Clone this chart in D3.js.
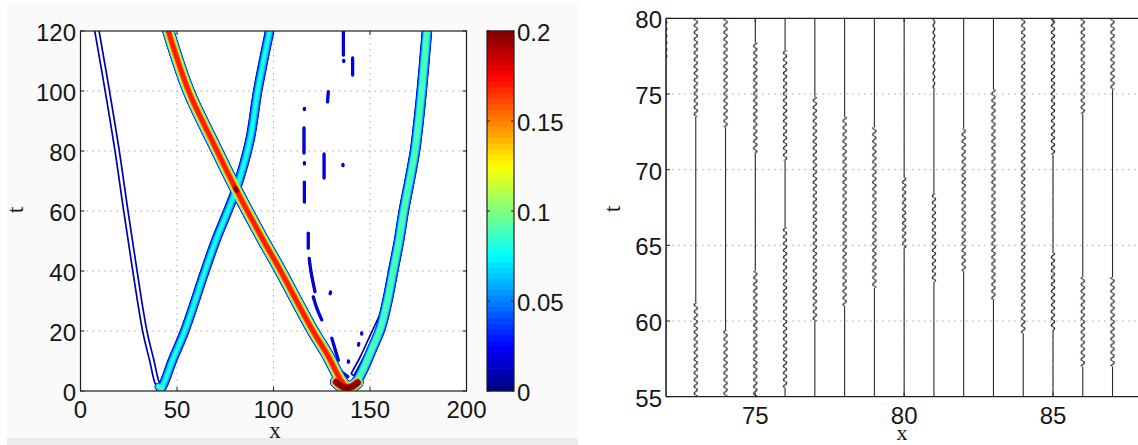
<!DOCTYPE html>
<html>
<head>
<meta charset="utf-8">
<script src="https://cdn.jsdelivr.net/npm/d3@7"></script>
<style>
  html, body { margin: 0; padding: 0; background: #ffffff; }
  svg { display: block; }
</style>
</head>
<body>
<svg id="fig" width="1138" height="445"></svg>
<script>
// ---------------- data: space-time amplitude map (left) ----------------
const xTicksMap = [0, 50, 100, 150, 200];
const tTicksMap = [0, 20, 40, 60, 80, 100, 120];
const colorbarTicks = [0, 0.05, 0.1, 0.15, 0.2];
const colorbarLabels = ["0", "0.05", "0.1", "0.15", "0.2"];
const contourLevels = [0.01, 0.02, 0.03, 0.04, 0.05, 0.06, 0.07, 0.08, 0.09, 0.1,
                       0.11, 0.12, 0.13, 0.14, 0.15, 0.16, 0.17, 0.18, 0.19, 0.2];

// wave-packet trajectories as [x, t]
const weakLeftPath    = [[41.2,0.9],[39.5,3.1],[37,10],[33.3,20],[28.2,40],[23.5,60],[19,80],[13.9,100],[8.5,120]];
const risingLeftPath  = [[41.5,0.5],[43.5,3],[47.5,10],[54,20],[64.5,40],[70,50],[80.6,67.2],[87.8,83.7],[91.8,100],[98,120]];
const fallingPath     = [[45.5,120],[56,100],[68.5,83],[80.6,67.2],[94.5,50.5],[102.5,41.4],[120,20.5],[128,12],[135,3.5],[138.5,0.8]];
const risingRightPath = [[140.5,0.8],[143,3],[147,8],[151,14],[155.5,21],[159,30],[162,40],[165,50],[167.5,60],[170.5,70],[173.3,80],[175.2,90],[176.8,100],[178.2,110],[179.5,120]];
const shoulderPath    = [[141.3,5.9],[146,11.5],[151,18.5],[156,25.3]];
const crossingCore    = [[80.1,67.7],[81.1,66.7]];
const valleyCoreRight = [[132.5,3],[136,1.4],[140,1.3],[143.5,2.8]];
const valleyCoreLeft  = [[40.3,1.5],[42.3,1]];

// peak amplitude of each trajectory (same order as the paths above)
const peakAmplitudes = [0.0145, 0.082, 0.178, 0.1, 0.0135, 0.215, 0.22, 0.1];

// isolated low-amplitude radiation fragments, [x, t]
const radiationSpecks = [
  [[136.2,112],[136.2,119.8]],
  [[136.4,109.8],[136.4,110.2]],
  [[141,105.3],[141,111]],
  [[128,96.4],[128.4,99.8]],
  [[116,93.8],[116,94.2]],
  [[115.8,79.3],[115.8,87.7]],
  [[116,75.7],[116,76.1]],
  [[126.2,71],[126.2,79]],
  [[136,75.1],[136,75.5]],
  [[116,63],[116,69.6]],
  [[118,47.6],[118,52.6]],
  [[118.5,44.2],[119.5,39.5],[121.5,33.1]],
  [[120.6,31.4],[122.5,27.5],[125,23.7]],
  [[129.3,32.4],[129.6,33]],
  [[130.2,17.6],[133.6,10.3]],
  [[132,9.2],[135,6.5],[138.5,4.8]],
  [[138.8,9.6],[138.8,10]],
  [[144,15.3],[144.2,15.8]],
  [[145.7,19],[145.7,19.4]]
];
const speckAmplitude = 0.022;

// ---------------- data: lattice displacement detail (right) ----------------
const xTicksLattice = [75, 80, 85];
const tTicksLattice = [55, 60, 65, 70, 75, 80];
const latticeSites = [72, 73, 74, 75, 76, 77, 78, 79, 80, 81, 82, 83, 84, 85, 86, 87, 88];
const oscillationPeriod = 0.45;
// [site, t start, t end, displacement amplitude]
const oscillationWindows = [
  [72, 77.2, 80, 0.028],
  [73, 73.5, 80, 0.055], [73, 55, 61.2, 0.055],
  [74, 72.8, 80, 0.055], [74, 55, 59.4, 0.055],
  [75, 71.1, 78.4, 0.055], [75, 55, 63.3, 0.055],
  [76, 70.6, 77.9, 0.055], [76, 55.6, 66.2, 0.055],
  [77, 60, 74.8, 0.055],
  [78, 61, 73.5, 0.055],
  [79, 62.2, 72.8, 0.055],
  [80, 64.8, 69.5, 0.055],
  [81, 62.6, 68.4, 0.055], [81, 75.3, 80, 0.028],
  [82, 63.3, 72.7, 0.055],
  [83, 61.4, 75.3, 0.055],
  [84, 59.2, 80, 0.055],
  [85, 71, 80, 0.055], [85, 59.4, 64.5, 0.055],
  [86, 73.7, 80, 0.055], [86, 57, 62.9, 0.055],
  [87, 75.3, 80, 0.055], [87, 57, 62.9, 0.055]
];

// ---------------- setup ----------------
const svg = d3.select("#fig");
const defs = svg.append("defs");
const sansFont = "'Liberation Sans', Arial, Helvetica, sans-serif";
const serifFont = "'Liberation Serif', 'Times New Roman', serif";
const axisColor = "#1e1e1e";
const gridColor = "#a8a8a8";
const tickFont = 24;

// MATLAB-style jet colormap
function jet(v) {
  const c = x => Math.max(0, Math.min(1, x));
  const r = c(1.5 - Math.abs(4 * v - 3));
  const g = c(1.5 - Math.abs(4 * v - 2));
  const b = c(1.5 - Math.abs(4 * v - 1));
  return d3.rgb(r * 255, g * 255, b * 255).formatHex();
}
const amplitudeColor = d3.scaleSequential(jet).domain([0, 0.2]);

// ---------------- left panel ----------------
svg.append("rect").attr("x", 7).attr("y", 3).attr("width", 571).attr("height", 435).attr("fill", "#f9faf9");
svg.append("rect").attr("x", 7).attr("y", 438).attr("width", 571).attr("height", 7).attr("fill", "#ececec");

const xMap = d3.scaleLinear().domain([0, 200]).range([80.5, 466.5]);
const tMap = d3.scaleLinear().domain([0, 120]).range([391, 31]);

defs.append("clipPath").attr("id", "mapClip")
  .append("rect")
  .attr("x", xMap(0)).attr("y", tMap(120))
  .attr("width", xMap(200) - xMap(0)).attr("height", tMap(0) - tMap(120));

svg.append("rect")
  .attr("x", xMap(0)).attr("y", tMap(120))
  .attr("width", xMap(200) - xMap(0)).attr("height", tMap(0) - tMap(120))
  .attr("fill", "#ffffff");

const mapGrid = svg.append("g").attr("stroke", gridColor).attr("stroke-width", 1).attr("stroke-dasharray", "1.5,4.5");
mapGrid.selectAll("line.gx").data(xTicksMap.slice(1, -1)).join("line")
  .attr("x1", d => xMap(d)).attr("x2", d => xMap(d))
  .attr("y1", tMap(120)).attr("y2", tMap(0));
mapGrid.selectAll("line.gy").data(tTicksMap.slice(1, -1)).join("line")
  .attr("y1", d => tMap(d)).attr("y2", d => tMap(d))
  .attr("x1", xMap(0)).attr("x2", xMap(200));

// trajectories table with their drawing half-widths (px)
const halfWidths = [4, 4.3, 5.5, 4.8, 3.5, 3.5, 5.5, 3];
const trajectories = [weakLeftPath, risingLeftPath, fallingPath, risingRightPath,
                      shoulderPath, crossingCore, valleyCoreRight, valleyCoreLeft]
  .map((pts, i) => ({ pts, amp: peakAmplitudes[i], hw: halfWidths[i] }))
  .concat(radiationSpecks.map(pts => ({ pts, amp: speckAmplitude, hw: 1.2 })));

const bandLine = d3.line()
  .x(d => xMap(d[0])).y(d => tMap(d[1]))
  .curve(d3.curveCatmullRom.alpha(0.5));

const contourG = svg.append("g").attr("clip-path", "url(#mapClip)")
  .attr("fill", "none").attr("stroke-linecap", "round").attr("stroke-linejoin", "round");

const contourWidth = (b, level) => 2 * b.hw * Math.sqrt(1 - level / b.amp) + 1.5;

contourLevels.forEach((level, li) => {
  const active = trajectories.filter(b => b.amp > level);
  contourG.append("g").selectAll("path").data(active).join("path")
    .attr("d", b => bandLine(b.pts))
    .attr("stroke", amplitudeColor(level))
    .attr("stroke-width", b => contourWidth(b, level));
  if (li === 0) {
    // single-contour features stay hollow inside
    const hollow = trajectories.filter(b => b.amp <= contourLevels[1] && contourWidth(b, level) > 3.6);
    contourG.append("g").selectAll("path").data(hollow).join("path")
      .attr("d", b => bandLine(b.pts))
      .attr("stroke", "#ffffff")
      .attr("stroke-width", b => contourWidth(b, level) - 3.4);
  }
});

// axes box + ticks
svg.append("rect")
  .attr("x", xMap(0)).attr("y", tMap(120))
  .attr("width", xMap(200) - xMap(0)).attr("height", tMap(0) - tMap(120))
  .attr("fill", "none").attr("stroke", axisColor).attr("stroke-width", 1.2);

const mapTicks = svg.append("g").attr("stroke", axisColor).attr("stroke-width", 1);
xTicksMap.forEach(v => {
  mapTicks.append("line").attr("x1", xMap(v)).attr("x2", xMap(v)).attr("y1", tMap(0)).attr("y2", tMap(0) - 4);
  mapTicks.append("line").attr("x1", xMap(v)).attr("x2", xMap(v)).attr("y1", tMap(120)).attr("y2", tMap(120) + 4);
});
tTicksMap.forEach(v => {
  mapTicks.append("line").attr("y1", tMap(v)).attr("y2", tMap(v)).attr("x1", xMap(0)).attr("x2", xMap(0) + 4);
  mapTicks.append("line").attr("y1", tMap(v)).attr("y2", tMap(v)).attr("x1", xMap(200)).attr("x2", xMap(200) - 4);
});

const mapLabels = svg.append("g").attr("font-family", sansFont).attr("font-size", tickFont).attr("fill", "#161616");
mapLabels.selectAll("text.x").data(xTicksMap).join("text")
  .attr("x", d => xMap(d)).attr("y", 418).attr("text-anchor", "middle").text(d => d);
mapLabels.selectAll("text.y").data(tTicksMap).join("text")
  .attr("x", 76).attr("y", d => tMap(d) + 10).attr("text-anchor", "end").text(d => d);

svg.append("text").attr("x", 275).attr("y", 438).attr("text-anchor", "middle")
  .attr("font-family", serifFont).attr("font-size", 23).attr("fill", "#161616").text("x");
svg.append("text").attr("transform", "translate(23,210) rotate(-90)").attr("text-anchor", "middle")
  .attr("font-family", serifFont).attr("font-size", 24).attr("fill", "#161616").text("t");

// colorbar
const cbY = d3.scaleLinear().domain([0, 0.2]).range([391, 31]);
const cbX0 = 487, cbX1 = 514;
const cbSteps = d3.range(64).map(i => (i + 0.5) * 0.2 / 64);
svg.append("g").selectAll("rect").data(cbSteps).join("rect")
  .attr("x", cbX0).attr("width", cbX1 - cbX0)
  .attr("y", d => cbY(d + 0.1 / 64) - 0.3)
  .attr("height", cbY(0) - cbY(0.2 / 64) + 0.6)
  .attr("fill", d => amplitudeColor(d));
svg.append("rect").attr("x", cbX0).attr("y", cbY(0.2)).attr("width", cbX1 - cbX0).attr("height", cbY(0) - cbY(0.2))
  .attr("fill", "none").attr("stroke", axisColor).attr("stroke-width", 1.2);
const cbTicks = svg.append("g").attr("stroke", axisColor).attr("stroke-width", 1);
colorbarTicks.forEach(v => {
  cbTicks.append("line").attr("x1", cbX0).attr("x2", cbX0 + 3).attr("y1", cbY(v)).attr("y2", cbY(v));
  cbTicks.append("line").attr("x1", cbX1).attr("x2", cbX1 - 3).attr("y1", cbY(v)).attr("y2", cbY(v));
});
svg.append("g").attr("font-family", sansFont).attr("font-size", tickFont).attr("fill", "#161616")
  .selectAll("text").data(colorbarTicks).join("text")
  .attr("x", 517).attr("y", d => cbY(d) + 10).text((d, i) => colorbarLabels[i]);

// ---------------- right panel ----------------
const xLat = d3.scaleLinear().domain([72, 88]).range([666, 1142.3]);
const tLat = d3.scaleLinear().domain([55, 80]).range([396.7, 18.3]);

defs.append("clipPath").attr("id", "latClip")
  .append("rect")
  .attr("x", xLat(72) - 0.5).attr("y", tLat(80))
  .attr("width", xLat(88) - xLat(72) + 1).attr("height", tLat(55) - tLat(80));

const latGrid = svg.append("g").attr("stroke", gridColor).attr("stroke-width", 1).attr("stroke-dasharray", "1.5,4.5");
latGrid.selectAll("line.gx").data(xTicksLattice).join("line")
  .attr("x1", d => xLat(d)).attr("x2", d => xLat(d))
  .attr("y1", tLat(80)).attr("y2", tLat(55));
latGrid.selectAll("line.gy").data(tTicksLattice.slice(1, -1)).join("line")
  .attr("y1", d => tLat(d)).attr("y2", d => tLat(d))
  .attr("x1", xLat(72)).attr("x2", xLat(88));

// wave texture for each oscillation amplitude
const periodPx = tLat(55) - tLat(55 + oscillationPeriod);
const ampValues = Array.from(new Set(oscillationWindows.map(w => w[3])));
ampValues.forEach((a, i) => {
  const aPx = xLat(72 + a) - xLat(72);
  const P = periodPx, c = 6;
  const pat = defs.append("pattern").attr("id", "wave" + i)
    .attr("patternUnits", "userSpaceOnUse")
    .attr("x", -c).attr("y", 0).attr("width", 2 * c).attr("height", P);
  pat.append("path")
    .attr("d", `M${c},0 Q${c + 2 * aPx},${P / 4} ${c},${P / 2} Q${c - 2 * aPx},${3 * P / 4} ${c},${P}`)
    .attr("fill", "none").attr("stroke", "#1e1e1e").attr("stroke-width", 1.25);
});

const latG = svg.append("g").attr("clip-path", "url(#latClip)");
latticeSites.forEach(site => {
  const wins = oscillationWindows.filter(w => w[0] === site).sort((a, b) => a[1] - b[1]);
  const g = latG.append("g").attr("transform", `translate(${xLat(site)},0)`);
  // straight stretches between oscillation windows
  let cursor = 55;
  const straight = [];
  wins.forEach(w => { if (w[1] > cursor) straight.push([cursor, w[1]]); cursor = Math.max(cursor, w[2]); });
  if (cursor < 80) straight.push([cursor, 80]);
  g.selectAll("line").data(straight).join("line")
    .attr("x1", 0).attr("x2", 0)
    .attr("y1", d => tLat(d[0])).attr("y2", d => tLat(d[1]))
    .attr("stroke", "#2a2a2a").attr("stroke-width", 1.1);
  g.selectAll("rect").data(wins).join("rect")
    .attr("x", -6).attr("width", 12)
    .attr("y", d => tLat(d[2])).attr("height", d => tLat(d[1]) - tLat(d[2]))
    .attr("fill", d => `url(#wave${ampValues.indexOf(d[3])})`);
});

const latAxes = svg.append("g").attr("stroke", axisColor).attr("stroke-width", 1.3);
latAxes.append("line").attr("x1", xLat(72)).attr("x2", 1138).attr("y1", tLat(80)).attr("y2", tLat(80));
latAxes.append("line").attr("x1", xLat(72)).attr("x2", 1138).attr("y1", tLat(55)).attr("y2", tLat(55));
latAxes.append("line").attr("x1", xLat(72)).attr("x2", xLat(72)).attr("y1", tLat(80)).attr("y2", tLat(55));
tTicksLattice.forEach(v => {
  latAxes.append("line").attr("x1", xLat(72)).attr("x2", xLat(72) + 4).attr("y1", tLat(v)).attr("y2", tLat(v)).attr("stroke-width", 1);
});
xTicksLattice.forEach(v => {
  latAxes.append("line").attr("x1", xLat(v)).attr("x2", xLat(v)).attr("y1", tLat(55)).attr("y2", tLat(55) - 4).attr("stroke-width", 1);
  latAxes.append("line").attr("x1", xLat(v)).attr("x2", xLat(v)).attr("y1", tLat(80)).attr("y2", tLat(80) + 4).attr("stroke-width", 1);
});

const latLabels = svg.append("g").attr("font-family", sansFont).attr("font-size", tickFont).attr("fill", "#161616");
latLabels.selectAll("text.x").data(xTicksLattice).join("text")
  .attr("x", d => xLat(d)).attr("y", 424).attr("text-anchor", "middle").text(d => d);
latLabels.selectAll("text.y").data(tTicksLattice).join("text")
  .attr("x", 662).attr("y", d => tLat(d) + 10).attr("text-anchor", "end").text(d => d);

svg.append("text").attr("x", 902).attr("y", 440).attr("text-anchor", "middle")
  .attr("font-family", serifFont).attr("font-size", 22).attr("fill", "#161616").text("x");
svg.append("text").attr("transform", "translate(620,209) rotate(-90)").attr("text-anchor", "middle")
  .attr("font-family", serifFont).attr("font-size", 24).attr("fill", "#161616").text("t");
</script>
</body>
</html>
